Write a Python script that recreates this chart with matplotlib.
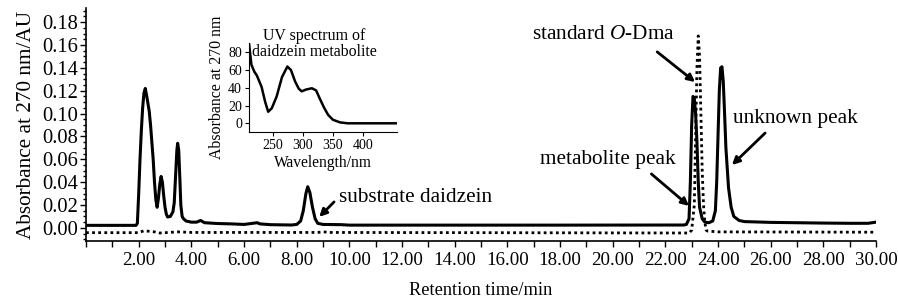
import matplotlib
matplotlib.use('Agg')
import matplotlib.pyplot as plt
from matplotlib.ticker import MultipleLocator

plt.rcParams['font.family'] = ['Liberation Serif', 'DejaVu Serif']
plt.rcParams['mathtext.fontset'] = 'custom'
plt.rcParams['mathtext.rm'] = 'Liberation Serif'
plt.rcParams['mathtext.it'] = 'Liberation Serif:italic'

# sample chromatogram (solid)
sample_t = [0.0, 1.9, 1.95, 2.0, 2.05, 2.1, 2.15, 2.2, 2.25, 2.3, 2.35, 2.4, 2.45, 2.5,
            2.55, 2.6, 2.65, 2.7, 2.75, 2.8, 2.85, 2.9, 2.95, 3.0, 3.05, 3.1, 3.2, 3.3,
            3.35, 3.4, 3.45, 3.48, 3.52, 3.56, 3.6, 3.65, 3.7, 3.8, 4.0, 4.2, 4.35, 4.5,
            5.0, 5.5, 6.0, 6.5, 6.6, 7.0, 7.8, 8.0, 8.15, 8.25, 8.35, 8.42, 8.5, 8.6,
            8.7, 8.8, 9.0, 9.7, 10.0, 14.0, 18.0, 22.7, 22.8, 22.9, 22.95, 23.0, 23.05,
            23.1, 23.15, 23.2, 23.25, 23.3, 23.4, 23.5, 23.65, 23.8, 23.9, 23.95, 24.0,
            24.05, 24.1, 24.15, 24.2, 24.25, 24.3, 24.4, 24.5, 24.6, 24.8, 25.0, 26.0,
            27.0, 28.0, 29.0, 29.7, 30.0]
sample_abs = [0.0022, 0.0022, 0.004, 0.03, 0.06, 0.085, 0.105, 0.118, 0.122, 0.116, 0.109,
              0.102, 0.090, 0.075, 0.060, 0.040, 0.025, 0.018, 0.026, 0.038, 0.045, 0.040,
              0.028, 0.018, 0.012, 0.0095, 0.010, 0.014, 0.022, 0.045, 0.068, 0.074, 0.068,
              0.045, 0.020, 0.010, 0.008, 0.006, 0.005, 0.005, 0.0065, 0.0045, 0.0038,
              0.0035, 0.003, 0.0045, 0.0035, 0.0028, 0.0025, 0.003, 0.006, 0.015, 0.030,
              0.036, 0.031, 0.018, 0.008, 0.004, 0.003, 0.0028, 0.0024, 0.0024, 0.0024,
              0.0025, 0.003, 0.008, 0.04, 0.09, 0.115, 0.113, 0.100, 0.075, 0.040, 0.018,
              0.008, 0.005, 0.0045, 0.006, 0.015, 0.04, 0.08, 0.12, 0.14, 0.141, 0.128,
              0.10, 0.07, 0.035, 0.018, 0.010, 0.0065, 0.0055, 0.0048, 0.0045, 0.0042,
              0.004, 0.004, 0.005]

# standard O-Dma chromatogram (dotted)
std_t = [0.0, 2.0, 2.2, 2.4, 2.6, 2.8, 3.5, 4.0, 8.8, 9.0, 9.3, 22.9, 23.0, 23.1, 23.15,
         23.2, 23.25, 23.3, 23.35, 23.4, 23.45, 23.5, 23.55, 23.6, 24.0, 30.0]
std_abs = [-0.0042, -0.0042, -0.0025, -0.003, -0.0035, -0.0045, -0.0035, -0.004, -0.004,
           -0.0035, -0.004, -0.0045, -0.002, 0.02, 0.08, 0.14, 0.168, 0.15, 0.10, 0.05,
           0.02, 0.005, -0.002, -0.0028, -0.0035, -0.0038]

# UV spectrum of metabolite (inset)
uv_wl = [210, 214, 219, 223, 231, 237, 242, 248, 256, 265, 274, 280, 287, 293, 298, 305,
         315, 322, 328, 335, 342, 350, 362, 375, 455]
uv_abs = [90, 66, 58, 54, 41, 24, 13, 17, 30, 52, 64, 60, 47, 39, 36, 38, 39.5, 37, 28,
          18, 9.5, 4, 1, 0, 0]

fig = plt.figure(figsize=(8.98, 3.0), dpi=100)
ax = fig.add_axes([0.0958, 0.197, 0.8797, 0.776])

ax.plot(sample_t, sample_abs, color='black', lw=2.2, solid_joinstyle='round')
ax.plot(std_t, std_abs, color='black', lw=2.0, linestyle=(0, (1, 1.2)))

ax.set_xlim(0, 30)
ax.set_ylim(-0.0114, 0.1923)
ax.xaxis.set_minor_locator(MultipleLocator(1))
ax.yaxis.set_minor_locator(MultipleLocator(0.005))
ax.set_xticks(range(2, 31, 2))
ax.set_xticklabels(['%.2f' % v for v in range(2, 31, 2)])
ax.set_yticks([i * 0.02 for i in range(10)])
ax.set_yticklabels(['%.2f' % (i * 0.02) for i in range(10)])
for s in ['top', 'right']:
    ax.spines[s].set_visible(False)
ax.spines['left'].set_linewidth(1.2)
ax.spines['bottom'].set_linewidth(1.2)
ax.tick_params(axis='y', which='major', length=4, width=1, labelsize=14.8, pad=2)
ax.tick_params(axis='y', which='minor', length=2.5, width=1)
ax.tick_params(axis='x', which='both', length=4, width=1, labelsize=13.6, pad=4)
ax.set_xlabel('Retention time/min', fontsize=13.2, labelpad=9)
ax.set_ylabel('Absorbance at 270 nm/AU', fontsize=15.3, labelpad=4)

arrow = dict(arrowstyle='-|>', lw=2, color='black', mutation_scale=11, shrinkA=0, shrinkB=0)
ax.annotate('', xy=(23.13, 0.1276), xytext=(21.69, 0.154), arrowprops=arrow)
ax.text(19.65, 0.169, 'standard $\\mathit{O}$-Dma', fontsize=15.3, ha='center', va='center')
ax.annotate('', xy=(22.9, 0.0192), xytext=(21.47, 0.0472), arrowprops=arrow)
ax.text(19.8, 0.0594, 'metabolite peak', fontsize=15.3, ha='center', va='center')
ax.annotate('', xy=(24.53, 0.055), xytext=(25.79, 0.083), arrowprops=arrow)
ax.text(26.92, 0.096, 'unknown peak', fontsize=15.3, ha='center', va='center')
ax.annotate('', xy=(8.855, 0.0096), xytext=(9.42, 0.0227), arrowprops=arrow)
ax.text(9.61, 0.027, 'substrate daidzein', fontsize=15.3, ha='left', va='center')

# inset
ins = fig.add_axes([0.2773, 0.56, 0.1648, 0.2967])
ins.plot(uv_wl, uv_abs, color='black', lw=1.8)
ins.set_xlim(210, 457)
ins.set_ylim(-9.8, 90.5)
ins.set_xticks([250, 300, 350, 400])
ins.set_yticks([0, 20, 40, 60, 80])
for s in ['top', 'right']:
    ins.spines[s].set_visible(False)
ins.tick_params(labelsize=10, length=3, pad=2)
ins.set_xlabel('Wavelength/nm', fontsize=11.2, labelpad=2)
ins.set_ylabel('Absorbance at 270 nm', fontsize=11.4, labelpad=2)
fig.text(314 / 898, 1 - 44 / 300, 'UV spectrum of\ndaidzein metabolite', fontsize=11.4,
         ha='center', va='center', linespacing=1.05)

fig.savefig('out.png', dpi=100)
